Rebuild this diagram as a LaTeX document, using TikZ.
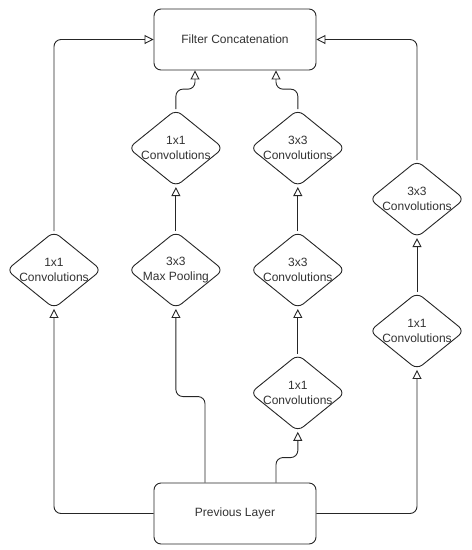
\documentclass[tikz,border=0pt]{standalone}
\usepackage{fontspec}
\setmainfont{Liberation Sans}
\usepackage{xcolor}
\usetikzlibrary{positioning}
\usetikzlibrary{shapes.geometric}
\usetikzlibrary{arrows.meta}
\definecolor{ink}{HTML}{333333}
\tikzset{
  % A layer block: rounded rectangle
  layer/.style={
    draw=black!85, fill=white, rectangle, rounded corners=7pt, line width=0.9pt,
    align=center, font=\fontsize{12}{15}\selectfont, text=ink,
    minimum width=162pt, minimum height=61pt, inner sep=0pt},
  % A convolution / pooling step: rounded diamond, text set as a centred label
  conv/.style={
    draw=black!85, fill=white, diamond, rounded corners=7pt, line width=0.9pt,
    minimum width=95pt, minimum height=77pt, inner sep=0pt,
    label={[align=center, font=\fontsize{12}{15}\selectfont, text=ink]center:#1}},
  % Data flow
  feed/.style={-{Triangle[open, length=9pt, width=9pt]}, draw=black!85,
    line width=0.9pt, rounded corners=7pt},
}
\begin{document}
\begin{tikzpicture}[x=1pt, y=-1pt]
  \useasboundingbox (0,0) rectangle (472,550);

  \node[layer] (concat) at (235,39.5)  {Filter Concatenation};
  \node[layer] (prev)   at (235,513.5) {Previous Layer};

  \node[conv={1x1\\Convolutions}] (c11) at (54,270) {};
  \node[conv={3x3\\Max Pooling}, right=26pt of c11]  (pool) {};
  \node[conv={1x1\\Convolutions}, above=44pt of pool] (c21) {};

  \node[conv={3x3\\Convolutions}, right=26pt of pool] (c33b) {};
  \node[conv={3x3\\Convolutions}, above=44pt of c33b] (c33c) {};
  \node[conv={1x1\\Convolutions}, below=45pt of c33b] (c31) {};

  \node[conv={1x1\\Convolutions}] (c41) at (417,331) {};
  \node[conv={3x3\\Convolutions}, above=54pt of c41] (c43) {};

  % branch 1
  \draw[feed] (prev.west) -| (c11.south);
  \draw[feed] (c11.north) |- (concat.west);

  % branch 2
  \draw[feed] ([xshift=-30pt]prev.north) -- ++(0,86pt) -| (pool.south);
  \draw[feed] (pool) -- (c21);
  \draw[feed] (c21.north) -- ++(0,20pt) -| ([xshift=-40pt]concat.south);

  % branch 3
  \draw[feed] ([xshift=41pt]prev.north) -- ++(0,25pt) -| (c31.south);
  \draw[feed] (c31) -- (c33b);
  \draw[feed] (c33b) -- (c33c);
  \draw[feed] (c33c.north) -- ++(0,20pt) -| ([xshift=41pt]concat.south);

  % branch 4
  \draw[feed] (prev.east) -| (c41.south);
  \draw[feed] (c41) -- (c43);
  \draw[feed] (c43.north) |- (concat.east);

\end{tikzpicture}
\end{document}
